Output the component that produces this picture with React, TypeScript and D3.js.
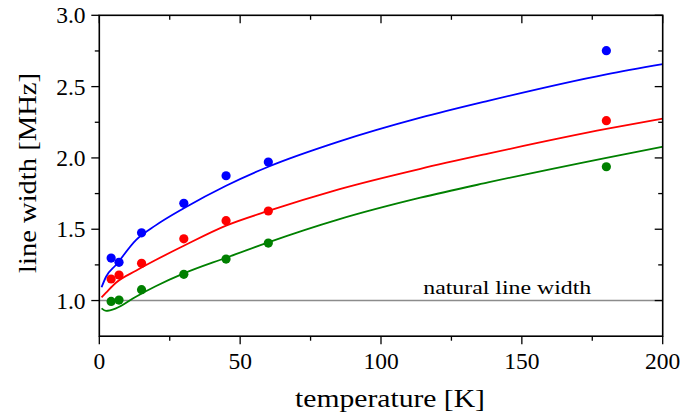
import React from "react";
import * as d3 from "d3";

const temps = [4.2, 7, 15, 30, 45, 60, 180];
const blueData = [1.298, 1.268, 1.475, 1.682, 1.875, 1.971, 2.752];
const redData = [1.151, 1.179, 1.261, 1.433, 1.56, 1.628, 2.261];
const greenData = [0.994, 1.003, 1.076, 1.184, 1.291, 1.403, 1.938];

const fitT = [0.8, 2.4, 5.9, 13, 20, 30, 45, 60, 85, 114, 138, 180, 200];
const blueFit = [1.093, 1.167, 1.249, 1.424, 1.527, 1.647, 1.805, 1.938, 2.114, 2.282, 2.4, 2.586, 2.658];
const redFit = [1.022, 1.055, 1.125, 1.209, 1.284, 1.384, 1.525, 1.628, 1.78, 1.924, 2.03, 2.203, 2.275];
const greenFit = [0.945, 0.928, 0.945, 1.027, 1.1, 1.19, 1.3, 1.408, 1.569, 1.721, 1.828, 2.001, 2.079];

const xMajor = [0, 50, 100, 150, 200];
const xMinor = [25, 75, 125, 175];
const yMajor = [1.0, 1.5, 2.0, 2.5, 3.0];
const yMinor = [1.25, 1.75, 2.25, 2.75];

const naturalWidth = 1.0;

const W = 681;
const H = 415;
const L = 99.3, R = 662.7, T = 15.3, B = 336.2;

export default function App() {
  const x = d3.scaleLinear().domain([0, 200]).range([L, R]);
  const y = d3.scaleLinear().domain([0.75, 3.0]).range([B, T]);
  const font = "'Liberation Serif', 'DejaVu Serif', serif";

  const line = (ys: number[]) =>
    d3
      .line<number>()
      .x((_, i) => x(fitT[i]))
      .y((d) => y(d))
      .curve(d3.curveMonotoneX)(ys) || "";

  const series = [
    { fit: blueFit, data: blueData, color: "#0000ff" },
    { fit: redFit, data: redData, color: "#ff0000" },
    { fit: greenFit, data: greenData, color: "#008000" },
  ];

  const majLen = 8;
  const minLen = 4.5;

  return (
    <div style={{ position: "absolute", left: 0, top: 0 }}>
      <svg width={W} height={H} style={{ display: "block" }} fontFamily={font}>
        <rect x={0} y={0} width={W} height={H} fill="#fff" />
        <defs>
          <clipPath id="plot">
            <rect x={L} y={T} width={R - L} height={B - T} />
          </clipPath>
        </defs>
        {/* natural line width */}
        <line x1={L} x2={R} y1={y(naturalWidth)} y2={y(naturalWidth)} stroke="#8c8c8c" strokeWidth={1.5} />
        <text x={x(115)} y={294} fontSize={19} fill="#000" textLength={168} lengthAdjust="spacingAndGlyphs">
          natural line width
        </text>
        <g clipPath="url(#plot)">
          {series.map((s, k) => (
            <path key={k} d={line(s.fit)} fill="none" stroke={s.color} strokeWidth={1.8} />
          ))}
        </g>
        {series.map((s, k) => (
          <g key={k}>
            {s.data.map((v, i) => (
              <circle key={i} cx={x(temps[i])} cy={y(v)} r={4.6} fill={s.color} />
            ))}
          </g>
        ))}
        {/* frame */}
        <rect x={L} y={T} width={R - L} height={B - T} fill="none" stroke="#000" strokeWidth={1.6} />
        {/* x ticks */}
        {xMajor.map((t) => (
          <g key={"xm" + t}>
            <line x1={x(t)} x2={x(t)} y1={B} y2={B + majLen} stroke="#000" strokeWidth={1.3} />
            <line x1={x(t)} x2={x(t)} y1={T} y2={T + majLen} stroke="#000" strokeWidth={1.3} />
            <text x={x(t)} y={368.5} fontSize={23.5} textAnchor="middle">
              {t}
            </text>
          </g>
        ))}
        {xMinor.map((t) => (
          <g key={"xn" + t}>
            <line x1={x(t)} x2={x(t)} y1={B} y2={B + minLen} stroke="#000" strokeWidth={1.3} />
            <line x1={x(t)} x2={x(t)} y1={T} y2={T + minLen} stroke="#000" strokeWidth={1.3} />
          </g>
        ))}
        {/* y ticks */}
        {yMajor.map((v) => (
          <g key={"ym" + v}>
            <line x1={L - majLen} x2={L} y1={y(v)} y2={y(v)} stroke="#000" strokeWidth={1.3} />
            <line x1={R - majLen} x2={R} y1={y(v)} y2={y(v)} stroke="#000" strokeWidth={1.3} />
            <text x={85.5} y={y(v) + 8} fontSize={23.5} textAnchor="end">
              {v.toFixed(1)}
            </text>
          </g>
        ))}
        {yMinor.map((v) => (
          <g key={"yn" + v}>
            <line x1={L - minLen} x2={L} y1={y(v)} y2={y(v)} stroke="#000" strokeWidth={1.3} />
            <line x1={R - minLen} x2={R} y1={y(v)} y2={y(v)} stroke="#000" strokeWidth={1.3} />
          </g>
        ))}
        <text x={295} y={407} fontSize={26} textLength={190} lengthAdjust="spacingAndGlyphs">
          temperature [K]
        </text>
        <text
          transform="translate(36,273) rotate(-90)"
          fontSize={26}
          textLength={200}
          lengthAdjust="spacingAndGlyphs"
        >
          line width [MHz]
        </text>
      </svg>
    </div>
  );
}
